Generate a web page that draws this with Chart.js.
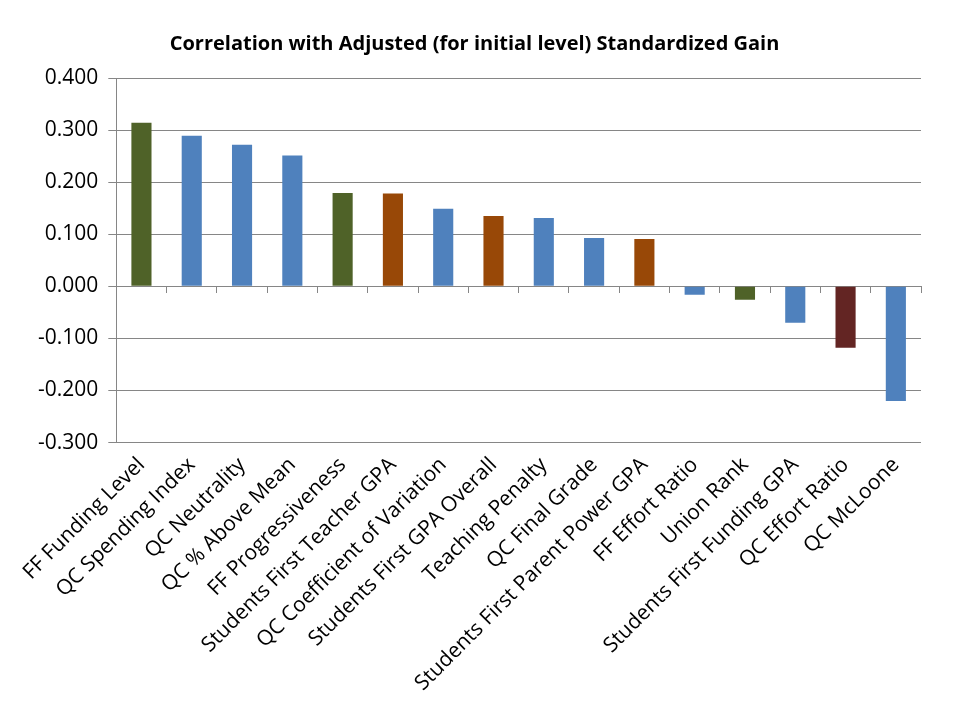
<!DOCTYPE html>
<html>
<head>
<meta charset="utf-8">
<script src="https://cdn.jsdelivr.net/npm/chart.js@4"></script>
<style>
  html, body { margin: 0; padding: 0; background: #fff; }
  #wrap { width: 960px; height: 720px; }
</style>
</head>
<body>
<div id="wrap"><canvas id="bar"></canvas></div>
<script>
const categories = [
  "FF Funding Level", "QC Spending Index", "QC Neutrality", "QC % Above Mean",
  "FF Progressiveness", "Students First Teacher GPA", "QC Coefficient of Variation",
  "Students First GPA Overall", "Teaching Penalty", "QC Final Grade",
  "Students First Parent Power GPA", "FF Effort Ratio", "Union Rank",
  "Students First Funding GPA", "QC Effort Ratio", "QC McLoone"
];
const correlations = [
  0.314, 0.289, 0.272, 0.251, 0.179, 0.178, 0.149, 0.135,
  0.131, 0.093, 0.091, -0.016, -0.026, -0.070, -0.118, -0.220
];
const barColors = [
  "#4F6228", "#4F81BD", "#4F81BD", "#4F81BD", "#4F6228", "#984807", "#4F81BD", "#984807",
  "#4F81BD", "#4F81BD", "#984807", "#4F81BD", "#4F6228", "#4F81BD", "#632523", "#4F81BD"
];
const yMin = -0.3, yMax = 0.4, yStep = 0.1;

////////////////////////////////////////////////////////////////////////////////////

const gridGray = "#868686";
const bar = document.querySelector("#bar");

const myBarChart = new Chart(bar, {
    type: "bar",
    data: {
        labels: categories,
        datasets: [
            {
                label: "Correlation",
                data: correlations,
                backgroundColor: barColors,
                borderWidth: 0,
                barPercentage: 0.4,
                categoryPercentage: 1.0,
                xAxisID: "x"
            }
        ],
    },
    options: {
        animation: false,
        responsive: true,
        maintainAspectRatio: false,
        layout: { padding: { left: 28, right: 39, top: 8, bottom: 22 } },
        plugins: {
            legend: { display: false },
            tooltip: { enabled: false },
            title: {
                display: true,
                text: "Correlation with Adjusted (for initial level) Standardized Gain",
                color: "#000",
                font: { family: "Open Sans", size: 20, weight: "bold" },
                padding: { top: 24, bottom: 22 }
            }
        },
        scales: {
            x: {
                type: "category",
                position: "bottom",
                grid: { display: false },
                border: { display: false },
                ticks: {
                    color: "#000",
                    font: { family: "Open Sans", size: 21 },
                    minRotation: 45,
                    maxRotation: 45,
                    autoSkip: false,
                    padding: 2
                }
            },
            xZero: {
                type: "category",
                labels: categories,
                position: { y: 0 },
                offset: true,
                grid: {
                    drawOnChartArea: false,
                    drawTicks: true,
                    tickLength: 6,
                    color: gridGray,
                    offset: true
                },
                border: { display: true, color: gridGray, width: 1 },
                ticks: { display: false }
            },
            y: {
                min: yMin,
                max: yMax,
                grid: { color: gridGray, lineWidth: 1, tickLength: 8, drawTicks: true },
                border: { display: true, color: gridGray },
                ticks: {
                    stepSize: yStep,
                    color: "#000",
                    padding: 10,
                    font: { family: "Open Sans", size: 21 },
                    callback: (v) => (Math.abs(v) < 1e-9 ? 0 : v).toFixed(3)
                }
            }
        }
    }
});
</script>
</body>
</html>
